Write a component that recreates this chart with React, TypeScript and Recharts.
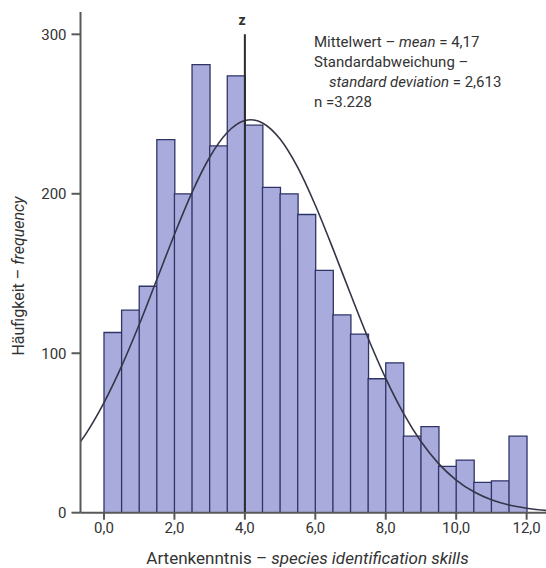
import React from "react";
import { ComposedChart, Bar, Line, XAxis, YAxis, ReferenceLine } from "recharts";

// Histogram bins (width 0.5), given by their centres
const binCenters = [
  0.25, 0.75, 1.25, 1.75, 2.25, 2.75, 3.25, 3.75, 4.25, 4.75, 5.25, 5.75,
  6.25, 6.75, 7.25, 7.75, 8.25, 8.75, 9.25, 9.75, 10.25, 10.75, 11.25, 11.75,
];
const frequencies = [
  113, 127, 142, 234, 200, 281, 230, 274, 243, 204, 200, 187,
  152, 124, 112, 84, 94, 48, 54, 29, 33, 19, 20, 48,
];

// Fitted normal curve (mean 4,17, sd 2,613), sampled points
const curveX = [
  -0.67, -0.5, 0, 0.5, 1, 1.5, 2, 2.5, 3, 3.5, 4, 4.17, 4.5, 5, 5.5, 6, 6.5,
  7, 7.5, 8, 8.5, 9, 9.5, 10, 10.5, 11, 11.5, 12, 12.5, 12.56,
];
const curveY = [
  44.4, 49.9, 69.0, 91.9, 118.0, 146.2, 174.5, 200.9, 222.9, 238.4, 245.9,
  246.4, 244.4, 234.3, 216.5, 192.8, 165.6, 137.1, 109.4, 84.2, 62.4, 44.6,
  30.8, 20.5, 13.1, 8.1, 4.8, 2.8, 1.5, 1.4,
];

const xTicks = [0, 2, 4, 6, 8, 10, 12];
const yTicks = [0, 100, 200, 300];
const zPosition = 4;
const zTop = 300;

const statLines = [
  { key: "mean", text: "Mittelwert – ", italic: "mean", rest: " = 4,17" },
  { key: "sd1", text: "Standardabweichung –", italic: "", rest: "" },
  { key: "sd2", text: "", italic: "standard deviation", rest: " = 2,613" },
  { key: "n", text: "n =3.228", italic: "", rest: "" },
];

const histData = binCenters.map((x, i) => ({ x, count: frequencies[i] }));
const curveData = curveX.map((x, i) => ({ x, f: curveY[i] }));

const X_DOMAIN: [number, number] = [-0.667, 12.55];
const AXIS = "#595959";
const TEXT = "#333333";
const FONT = "Roboto, 'Liberation Sans', Arial, sans-serif";

const fmt = (v: number) => v.toFixed(1).replace(".", ",");

export default function App() {
  return (
    <div style={{ position: "relative", width: 546, height: 568, fontFamily: FONT, background: "#fff" }}>
      <style>{"html, body { margin: 0; padding: 0; overflow: hidden; background: #fff; }"}</style>
      <ComposedChart
        width={546}
        height={568}
        data={histData}
        barCategoryGap={0}
        barGap={0}
        margin={{ top: 12, right: 0, bottom: 25.3, left: 0 }}
      >
        <XAxis
          xAxisId="bars"
          dataKey="x"
          type="number"
          domain={X_DOMAIN}
          allowDataOverflow
          ticks={xTicks}
          tickFormatter={fmt}
          height={30}
          tickSize={7}
          tickMargin={3}
          interval={0}
          axisLine={{ stroke: AXIS, strokeWidth: 2 }}
          tickLine={{ stroke: AXIS, strokeWidth: 2 }}
          tick={{ fontSize: 15, fill: TEXT, fontFamily: FONT }}
        />
        <XAxis
          xAxisId="curve"
          dataKey="x"
          type="number"
          domain={X_DOMAIN}
          allowDataOverflow
          hide
        />
        <YAxis
          type="number"
          domain={[0, 314]}
          allowDataOverflow
          ticks={yTicks}
          width={80.5}
          tickSize={9}
          tickMargin={5}
          axisLine={{ stroke: AXIS, strokeWidth: 2 }}
          tickLine={{ stroke: AXIS, strokeWidth: 2 }}
          tick={{ fontSize: 15, fill: TEXT, fontFamily: FONT }}
        />
        <Bar
          xAxisId="bars"
          dataKey="count"
          fill="#a8abdc"
          stroke="#2f3467"
          strokeWidth={1.3}
          isAnimationActive={false}
        />
        <Line
          xAxisId="curve"
          data={curveData}
          dataKey="f"
          type="monotone"
          stroke="#353548"
          strokeWidth={1.6}
          dot={false}
          isAnimationActive={false}
        />
        <ReferenceLine
          xAxisId="bars"
          segment={[
            { x: zPosition, y: 0 },
            { x: zPosition, y: zTop },
          ]}
          stroke="#2b2b2b"
          strokeWidth={2}
          ifOverflow="visible"
        />
      </ComposedChart>

      {/* z marker label */}
      <div
        style={{
          position: "absolute",
          left: 238,
          top: 12,
          width: 24,
          marginLeft: -8,
          textAlign: "center",
          fontSize: 14,
          fontWeight: 700,
          color: TEXT,
          lineHeight: "16px",
        }}
      >
        z
      </div>

      {/* statistics block */}
      <div
        style={{
          position: "absolute",
          left: 314,
          top: 32,
          fontSize: 15,
          lineHeight: "20px",
          color: TEXT,
          whiteSpace: "nowrap",
        }}
      >
        {statLines.map((l) => (
          <div key={l.key} style={{ paddingLeft: l.key === "sd2" ? 15 : 0 }}>
            {l.text}
            {l.italic ? <i>{l.italic}</i> : null}
            {l.rest}
          </div>
        ))}
      </div>

      {/* y axis title */}
      <div
        style={{
          position: "absolute",
          left: 18,
          top: 276,
          transform: "translate(-50%, -50%) rotate(-90deg)",
          fontSize: 16,
          color: TEXT,
          whiteSpace: "nowrap",
        }}
      >
        Häufigkeit – <i>frequency</i>
      </div>

      {/* x axis title */}
      <div
        style={{
          position: "absolute",
          left: 307.5,
          top: 558,
          transform: "translate(-50%, -50%)",
          fontSize: 17,
          color: TEXT,
          whiteSpace: "nowrap",
        }}
      >
        Artenkenntnis – <i>species identification skills</i>
      </div>
    </div>
  );
}
